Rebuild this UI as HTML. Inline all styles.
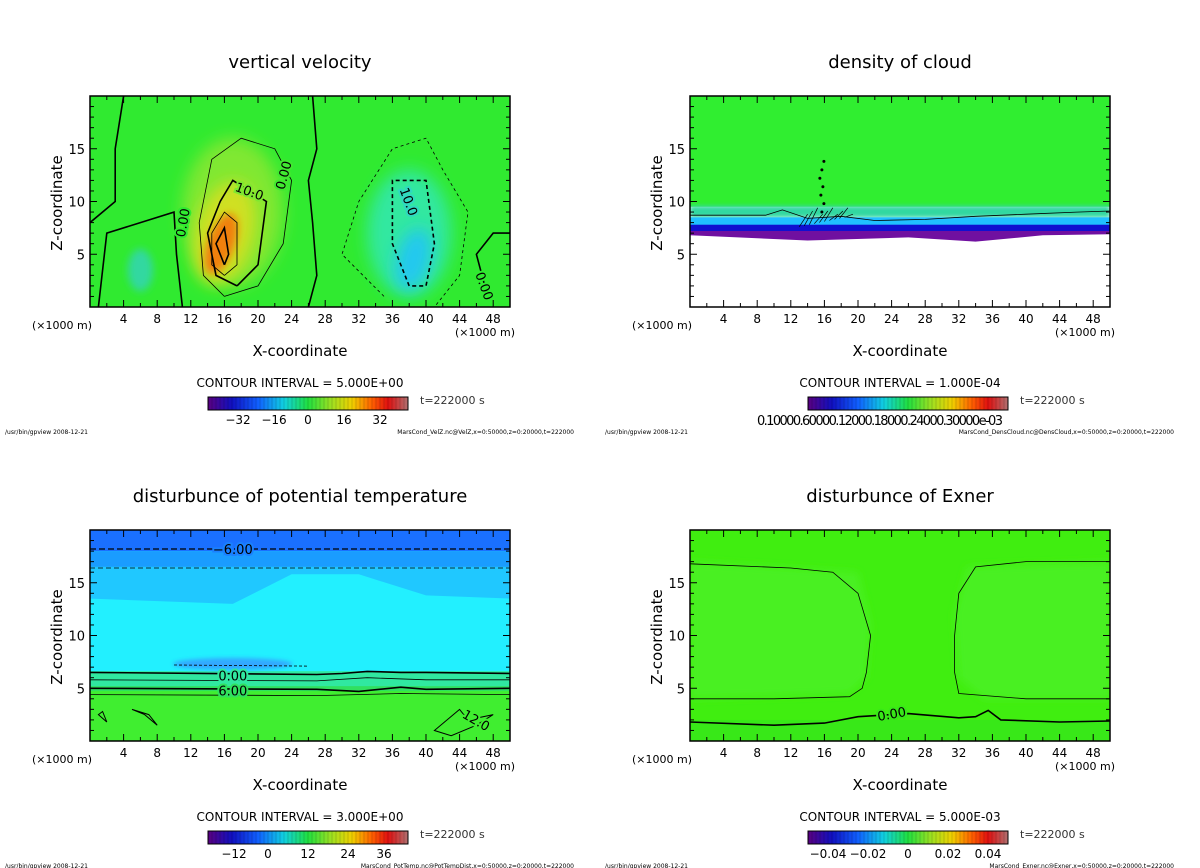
<!DOCTYPE html>
<html><head><meta charset="utf-8"><style>
body{margin:0;background:#fff;width:1200px;height:868px;overflow:hidden}
svg{display:block;font-family:"DejaVu Sans","Liberation Sans",sans-serif}
</style></head><body>
<svg id="s" width="1200" height="868" viewBox="0 0 1200 868" xmlns="http://www.w3.org/2000/svg">
<defs>
<filter id="b8" x="-50%" y="-50%" width="200%" height="200%"><feGaussianBlur stdDeviation="8"/></filter>
<filter id="b4" x="-50%" y="-50%" width="200%" height="200%"><feGaussianBlur stdDeviation="4"/></filter>
<filter id="b2" x="-20%" y="-50%" width="140%" height="200%"><feGaussianBlur stdDeviation="2"/></filter>
<linearGradient id="cbar" x1="0" x2="1">
<stop offset="0" stop-color="#5a0080"/><stop offset="0.12" stop-color="#1010c0"/><stop offset="0.25" stop-color="#1060ff"/><stop offset="0.38" stop-color="#10d0e0"/><stop offset="0.5" stop-color="#20e040"/><stop offset="0.62" stop-color="#a0e020"/><stop offset="0.72" stop-color="#f0d000"/><stop offset="0.82" stop-color="#ff6000"/><stop offset="0.9" stop-color="#e01010"/><stop offset="1" stop-color="#b07070"/>
</linearGradient>
<clipPath id="c0"><rect x="90" y="96" width="420" height="211"/></clipPath>
<clipPath id="c1"><rect x="690" y="96" width="420" height="211"/></clipPath>
<clipPath id="c2"><rect x="90" y="530" width="420" height="211"/></clipPath>
<clipPath id="c3"><rect x="690" y="530" width="420" height="211"/></clipPath>
</defs>
</svg>
<script>
const xTicks=[4,8,12,16,20,24,28,32,36,40,44,48];
const zTicks=[5,10,15];
const titles=["vertical velocity","density of cloud","disturbunce of potential temperature","disturbunce of Exner"];
const intervals=["5.000E+00","1.000E-04","3.000E+00","5.000E-03"];
const cbLabels=[["−32","−16","0","16","32"],[],["−12","0","12","24","36"],["−0.04","−0.02","0","0.02","0.04"]];
const cbPos=[[0.15,0.33,0.5,0.68,0.86],[],[0.13,0.3,0.5,0.7,0.88],[0.1,0.3,0.5,0.7,0.9]];
const files=["MarsCond_VelZ.nc@VelZ,x=0:50000,z=0:20000,t=222000","MarsCond_DensCloud.nc@DensCloud,x=0:50000,z=0:20000,t=222000","MarsCond_PotTemp.nc@PotTempDist,x=0:50000,z=0:20000,t=222000","MarsCond_Exner.nc@Exner,x=0:50000,z=0:20000,t=222000"];
const NS="http://www.w3.org/2000/svg";
const svg=document.getElementById('s');
function el(tag,attrs,parent,text){const e=document.createElementNS(NS,tag);for(const k in attrs)e.setAttribute(k,attrs[k]);if(text!==undefined)e.textContent=text;(parent||svg).appendChild(e);return e;}
const offs=[[0,0],[600,0],[0,434],[600,434]];
function sx(p,x){return offs[p][0]+90+x*8.4;}
function sz(p,z){return offs[p][1]+307-z*10.55;}
function path(p,pts){return pts.map((q,i)=>(i?'L':'M')+sx(p,q[0]).toFixed(1)+' '+sz(p,q[1]).toFixed(1)).join(' ')+'Z';}
function ell(p,g,x,z,rx,rz,fill,f,rot){const e=el('ellipse',{cx:sx(p,x),cy:sz(p,z),rx:rx*8.4,ry:rz*10.55,fill:fill,filter:f?'url(#'+f+')':'',transform:rot?`rotate(${rot} ${sx(p,x)} ${sz(p,z)})`:''},g);return e;}
function line(p,g,pts,w,dash,close){const d=pts.map((q,i)=>(i?'L':'M')+sx(p,q[0]).toFixed(1)+' '+sz(p,q[1]).toFixed(1)).join(' ')+(close?'Z':'');return el('path',{d:d,fill:'none',stroke:'#000','stroke-width':w,'stroke-dasharray':dash||''},g);}
// Panel 0 vertical velocity
let g=el('g',{'clip-path':'url(#c0)'});
el('rect',{x:90,y:96,width:420,height:211,fill:'#30ea30'},g);
ell(0,g,17,9,6,7,'#80e830','b8');
ell(0,g,16,7,3.5,5,'#d0e020','b8',15);
ell(0,g,15.6,6,1.6,3,'#f08010','b4',20);
ell(0,g,38,7,5,6,'#30e8a0','b8');
ell(0,g,38.5,4.5,2,3,'#20c8f0','b8',15);
ell(0,g,6,3.5,1.5,2,'#30d8a0','b4');
line(0,g,[[16,1],[13.5,3],[13,8],[14.5,14],[18,16],[22,15],[24,12],[23,6],[20,2],[16,1]],0.8);
line(0,g,[[17.5,2],[15,3],[14,7],[15.5,10],[17,12],[19,11],[21,10],[20,4],[17.5,2]],1.6);
line(0,g,[[16,3],[14.5,4],[14.5,7],[16,9],[17.5,8],[17.5,4],[16,3]],0.8);
line(0,g,[[16,4],[15,6],[16,7.5],[16.5,5],[16,4]],1.6);
line(0,g,[[26,0],[27,3],[26.5,8],[26,12],[27,15],[26.5,20]],1.6);
line(0,g,[[4,20],[3,15],[3,10],[0,8]],1.6);
line(0,g,[[1,0],[2,7],[6,8],[10,9],[10.3,5],[11,0]],1.6);
line(0,g,[[38,2],[36,6],[36,12],[40,12],[41,6],[40,2],[38,2]],1.6,'4 3');
line(0,g,[[35,1],[30,5],[32,10],[36,15],[40,16],[42,13],[45,9],[44,3],[41,0]],0.8,'3 3');
line(0,g,[[47,2],[46,5],[48,7],[50,7]],1.6);
// Panel 1 cloud density
g=el('g',{'clip-path':'url(#c1)'});
el('rect',{x:690,y:96,width:420,height:211,fill:'#fff'},g);
el('rect',{x:690,y:96,width:420,height:sz(1,9.5)-96,fill:'#30ee30'},g);
el('rect',{x:690,y:sz(1,9.6),width:420,height:12,fill:'#30d8a0',filter:'url(#b2)'},g);
el('rect',{x:690,y:sz(1,8.5),width:420,height:9,fill:'#20c0ff'},g);
el('rect',{x:690,y:sz(1,7.8),width:420,height:8,fill:'#1010d0'},g);
el('path',{d:path(1,[[0,7.2],[50,7.2],[50,6.9],[42,6.8],[34,6.2],[26,6.6],[14,6.3],[0,6.8]]),fill:'#7010a0'},g);
line(1,g,[[0,8.7],[9,8.7],[11,9.2],[14,8.4],[18,8.6],[22,8.2],[28,8.3],[34,8.6],[40,8.8],[46,9.0],[50,9.1]],0.8);
for(let i=0;i<10;i++)line(1,g,[[13+i*0.6,7.6+i*0.1],[14+i*0.6,8.8+(i%3)*0.3]],0.7);
for(let z=9;z<14;z+=0.8)el('circle',{cx:sx(1,15.4+(z%2)*0.3),cy:sz(1,z),r:1.5,fill:'#000'},g);
// Panel 2 potential temperature
g=el('g',{'clip-path':'url(#c2)'});
el('rect',{x:90,y:530,width:420,height:211,fill:'#22f0ff'},g);
el('rect',{x:90,y:530,width:420,height:sz(2,18)-530,fill:'#1a70ff'},g);
el('rect',{x:90,y:sz(2,18),width:420,height:sz(2,16.5)-sz(2,18),fill:'#1a9cff'},g);
el('path',{d:path(2,[[0,16.5],[50,16.5],[50,13.5],[40,13.8],[32,15.8],[24,15.8],[17,13],[0,13.5]]),fill:'#20c8ff'},g);
el('rect',{x:90,y:sz(2,6.6),width:420,height:sz(2,0)-sz(2,6.6),fill:'#40ee30'},g);
el('rect',{x:90,y:sz(2,6.6),width:420,height:sz(2,5)-sz(2,6.6),fill:'#30e8a0'},g);
el('rect',{x:90,y:sz(2,5.2),width:420,height:5,fill:'#30e060'},g);
el('ellipse',{cx:sx(2,17),cy:sz(2,7.3),rx:60,ry:6,fill:'#30a8ff',filter:'url(#b2)'},g);
line(2,g,[[0,18.2],[50,18.2]],1.2,'6 3');
line(2,g,[[0,16.4],[50,16.4]],0.8,'5 3');
line(2,g,[[10,7.2],[26,7.1]],0.8,'3 2');
line(2,g,[[0,6.5],[27,6.3],[30,6.4],[33,6.6],[37,6.5],[40,6.5],[50,6.4]],1.6);
line(2,g,[[0,5.8],[27,5.7],[33,6.0],[40,5.8],[50,5.8]],0.8);
line(2,g,[[0,5.0],[27,4.9],[32,4.7],[37,5.1],[40,4.9],[50,5.0]],1.6);
line(2,g,[[0,4.4],[27,4.3],[37,4.5],[50,4.4]],0.8);
line(2,g,[[5,3],[6.5,2.5],[8,1.5],[7,2.5],[5,3]],1,'',true);
line(2,g,[[1,2.5],[2,1.8],[1.5,2.8],[1,2.5]],1,'',true);
line(2,g,[[44,3],[41,1],[43,0.5],[46,1.5],[48,2.5],[45,2],[44,3]],1,'',true);
// Panel 3 Exner
g=el('g',{'clip-path':'url(#c3)'});
el('rect',{x:690,y:530,width:420,height:211,fill:'#40ee10'},g);
el('path',{d:path(3,[[0,17],[20,16],[21.5,11],[21,6],[19,4.5],[0,4],[0,17]]),fill:'#48f020',filter:'url(#b4)'},g);
el('path',{d:path(3,[[50,17],[33,16.5],[31.5,12],[32,6],[35,4],[50,4]]),fill:'#48f020',filter:'url(#b4)'},g);
el('rect',{x:690,y:sz(3,2),width:420,height:sz(3,0)-sz(3,2),fill:'#38e818'},g);
line(3,g,[[0,16.8],[12,16.4],[17,16],[20,14],[21.5,10],[21,6.5],[20.5,5],[19,4.2],[10,4],[0,4]],0.8);
line(3,g,[[50,17],[40,17],[34,16.5],[32,14],[31.5,10],[31.5,6.5],[32,4.5],[40,4],[50,4]],0.8);
line(3,g,[[0,1.8],[10,1.5],[16,1.7],[20,2.3],[26,2.6],[32,2.2],[34,2.3],[35.5,2.9],[37,2],[44,1.8],[50,1.9]],1.6);
// contour labels (with background knock-out)
[[0,23,12.5,'0.00',-75,'#40e830'],[0,11,8,'0.00',-80,'#30ea30'],[0,19,11,'10.0',20,'#80e830'],[0,38,10,'10.0',70,'#30d8c0'],[0,47,2,'0.00',70,'#30ea30'],[2,17,18.2,'−6.00',0,'#1a80ff'],[2,17,6.2,'0.00',0,'#30e8a0'],[2,17,4.8,'6.00',0,'#30e060'],[2,46,2,'12.0',30,'#40ee30'],[3,24,2.6,'0.00',-10,'#38e818']].forEach(a=>{
  const x=sx(a[0],a[1]),y=sz(a[0],a[2]);
  const t=el('text',{x:x,y:y+5,'text-anchor':'middle','font-size':13,transform:a[4]?`rotate(${a[4]} ${x} ${y})`:'',stroke:a[5],'stroke-width':4,'paint-order':'stroke'},svg,a[3]);
  
  
});
// Panels frame, axes, labels
for(let p=0;p<4;p++){
  const ox=offs[p][0],oy=offs[p][1];
  const t=el('text',{x:ox+300,y:oy+68,'text-anchor':'middle','font-size':18},svg,titles[p]);
  const fr=el('rect',{x:ox+90,y:oy+96,width:420,height:211,fill:'none',stroke:'#000','stroke-width':1.5});
  for(let x=2;x<50;x+=2){const L=x%4===0?7:4;el('line',{x1:sx(p,x),x2:sx(p,x),y1:oy+307,y2:oy+307-L,stroke:'#000'});el('line',{x1:sx(p,x),x2:sx(p,x),y1:oy+96,y2:oy+96+L,stroke:'#000'});}
  for(let z=1;z<20;z++){const L=z%5===0?7:4;el('line',{x1:ox+90,x2:ox+90+L,y1:sz(p,z),y2:sz(p,z),stroke:'#000'});el('line',{x1:ox+510,x2:ox+510-L,y1:sz(p,z),y2:sz(p,z),stroke:'#000'});}
  xTicks.forEach(v=>{const e=el('text',{x:sx(p,v),y:oy+323,'text-anchor':'middle','font-size':12},svg,v);});
  zTicks.forEach(v=>{const e=el('text',{x:ox+85,y:sz(p,v)+5,'text-anchor':'end','font-size':13},svg,v);});
  el('text',{x:ox+32,y:oy+329,'font-size':11},svg,'(×1000 m)');
  el('text',{x:ox+455,y:oy+336,'font-size':11},svg,'(×1000 m)');
  const xl=el('text',{x:ox+300,y:oy+356,'text-anchor':'middle','font-size':15},svg,'X-coordinate');
  const zl=el('text',{x:ox+62,y:oy+203,'text-anchor':'middle','font-size':15,transform:`rotate(-90 ${ox+62} ${oy+203})`},svg,'Z-coordinate');
  el('text',{x:ox+300,y:oy+387,'text-anchor':'middle','font-size':12},svg,'CONTOUR INTERVAL = '+intervals[p]);
  const cb=el('rect',{x:ox+208,y:oy+397,width:200,height:13,fill:'url(#cbar)',stroke:'#000'});
  for(let i=1;i<50;i++)el('line',{x1:ox+208+i*4,x2:ox+208+i*4,y1:oy+397,y2:oy+410,stroke:'rgba(0,0,0,0.25)','stroke-width':0.6});
  cbLabels[p].forEach((s,i)=>el('text',{x:ox+208+cbPos[p][i]*200,y:oy+424,'text-anchor':'middle','font-size':12},svg,s));
  if(p===1)el('text',{x:ox+280,y:oy+425,'text-anchor':'middle','font-size':13,textLength:246},svg,'0.10000.60000.12000.18000.24000.30000e-03');
  el('text',{x:ox+420,y:oy+404,'font-size':11,fill:'#333'},svg,'t=222000 s');
  el('text',{x:ox+5,y:oy+434,'font-size':6},svg,'/usr/bin/gpview   2008-12-21');
  el('text',{x:ox+574,y:oy+434,'text-anchor':'end','font-size':6},svg,files[p]);
}
</script>
</body></html>
